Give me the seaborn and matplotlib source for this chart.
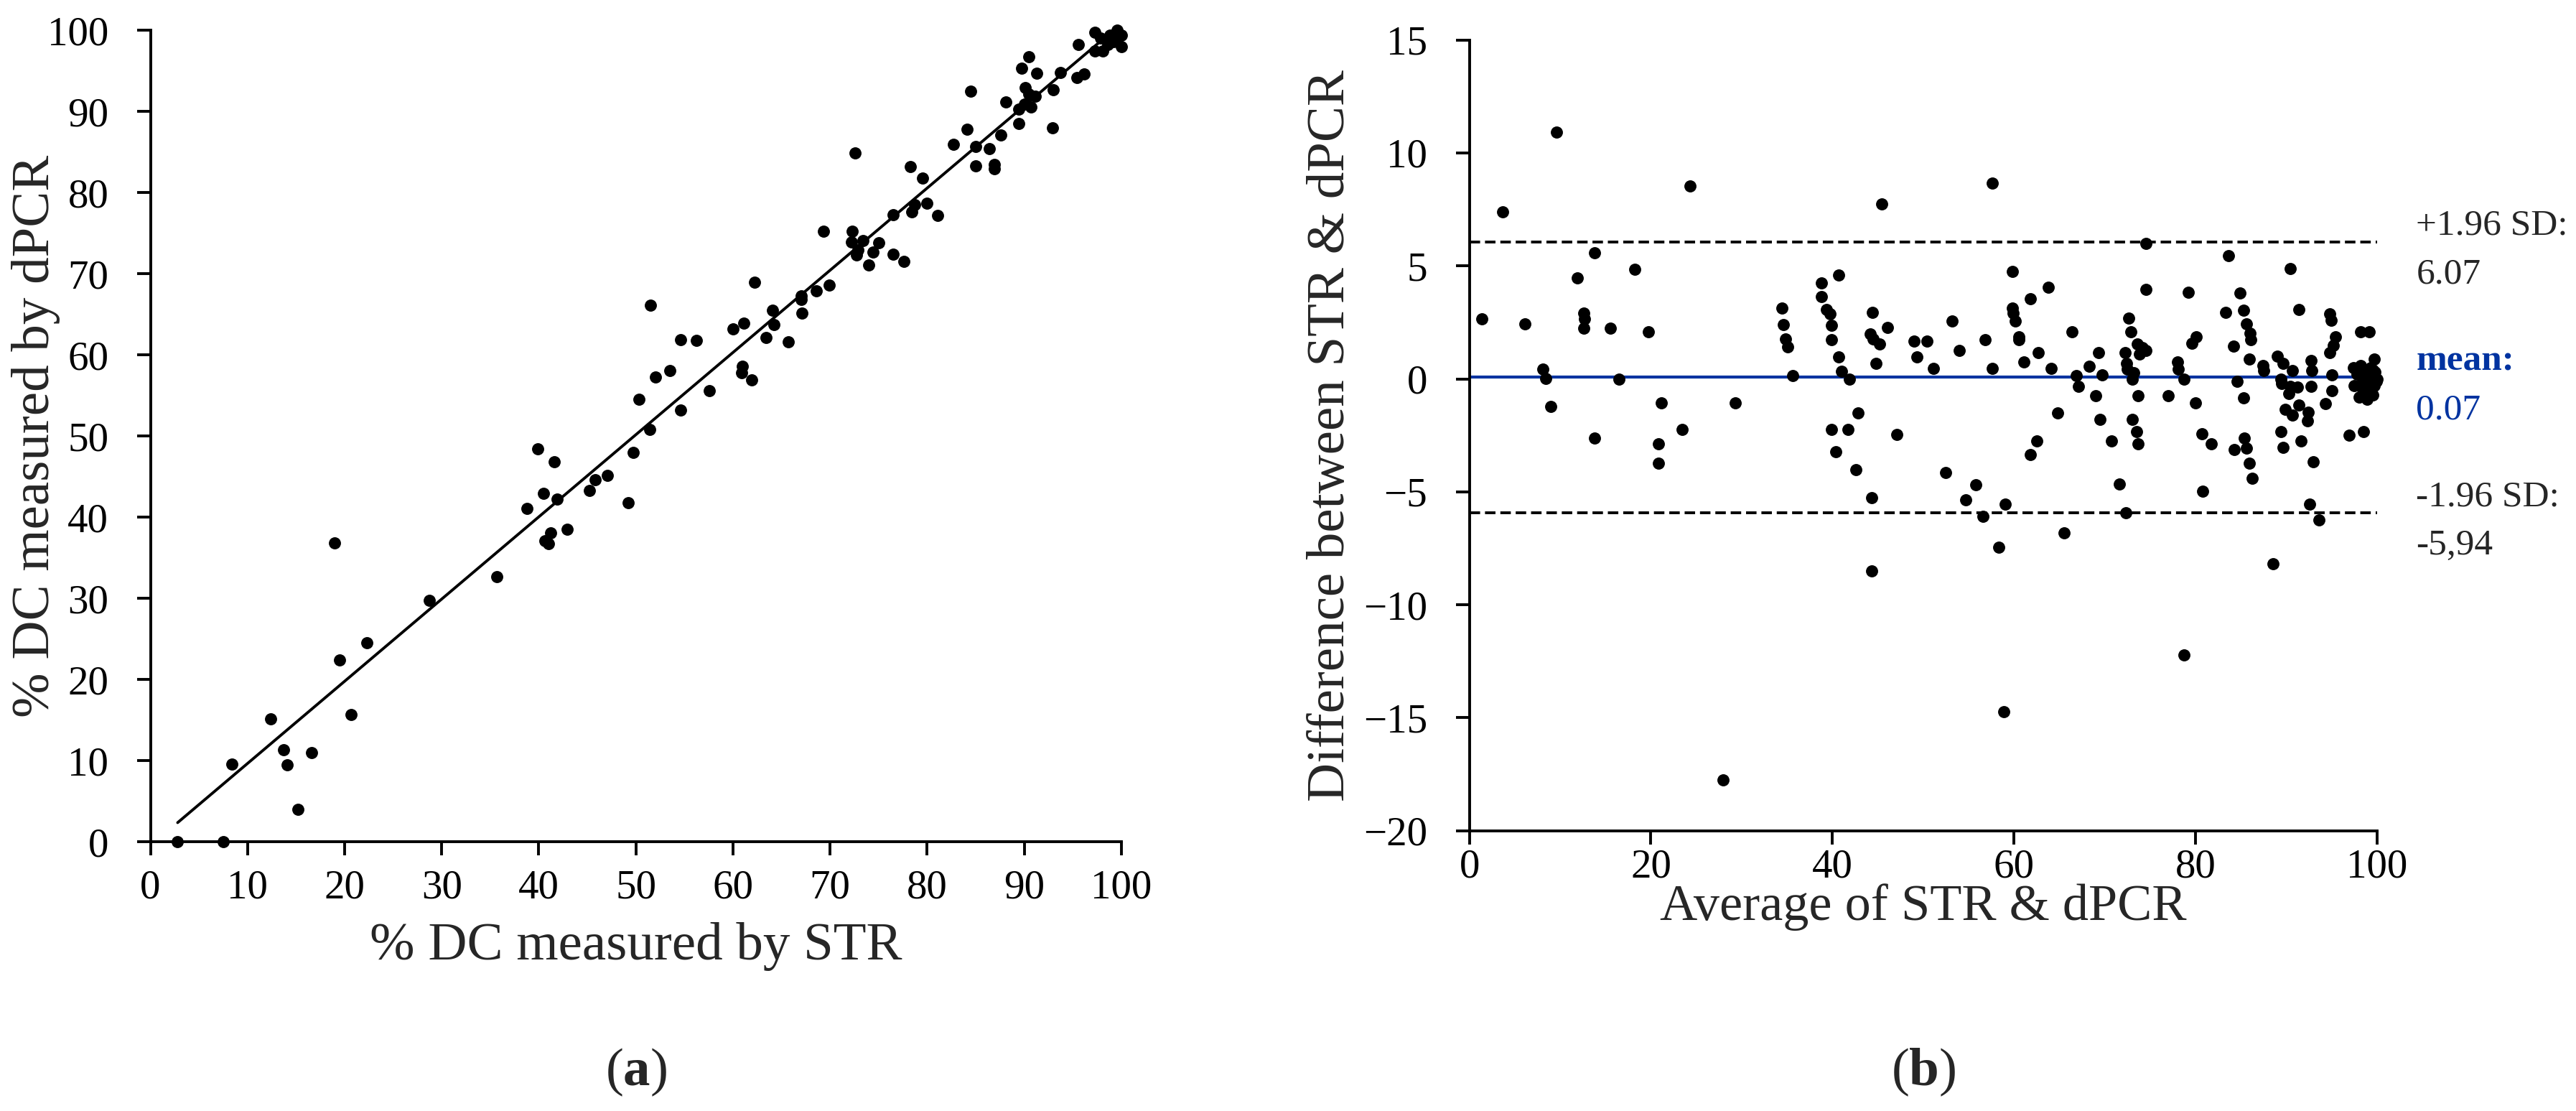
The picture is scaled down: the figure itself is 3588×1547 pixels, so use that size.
import matplotlib
matplotlib.use("Agg")
import matplotlib.pyplot as plt
import seaborn as sns

str_pct = [2.8, 7.5, 8.4, 12.4, 13.7, 14.1, 15.2, 16.6, 19.0, 19.5,
           20.7, 22.3, 28.7, 35.7, 38.8, 40.5, 41.9, 40.6, 41.0, 41.2,
           42.9, 45.2, 45.8, 47.1, 49.2,
           39.9, 41.6, 50.3, 49.7,
           51.4, 51.5, 52.0, 53.5, 54.6, 56.2, 54.6, 57.6, 60.0, 61.1,
           62.2, 61.0, 60.9, 61.9, 63.4, 64.1, 64.2, 65.7, 67.0, 67.1,
           67.0, 68.6, 69.9, 69.3, 72.6, 72.3, 72.2, 73.4, 72.9, 72.7,
           74.4, 75.0, 74.0, 76.5, 77.6, 76.5, 78.3, 79.5, 78.4, 78.7, 80.0,
           81.1, 84.5, 84.1, 82.7, 85.0, 86.4, 85.0, 86.9, 86.9, 87.6,
           88.1, 89.4, 89.4, 90.0, 90.7, 90.1, 90.5, 91.1, 89.7, 90.5,
           91.3, 92.9, 93.0, 93.7, 95.4, 96.2, 95.6, 97.3, 97.3, 98.1,
           97.9, 98.8, 99.6, 100.0, 100.0, 99.2, 98.6, 99.6]
dpcr_pct = [0.0, 0.0, 9.6, 15.1, 11.3, 9.5, 4.0, 11.0, 36.8, 22.4,
            15.7, 24.5, 29.7, 32.7, 41.1, 42.9, 42.2, 37.1, 36.7, 38.1,
            38.5, 43.3, 44.6, 45.1, 41.8,
            48.4, 46.8, 54.5, 48.0,
            50.8, 66.1, 57.3, 58.1, 61.9, 61.8, 53.2, 55.6, 63.2, 63.9,
            68.9, 58.6, 57.8, 56.9, 62.1, 65.5, 63.7, 61.6, 67.3, 65.1,
            66.8, 67.9, 68.6, 75.2, 84.9, 75.2, 73.9, 74.1, 72.9, 72.3,
            72.7, 73.8, 71.1, 72.4, 71.5, 77.3, 83.2, 81.8, 77.6, 78.5, 78.7,
            77.2, 92.5, 87.8, 85.9, 85.7, 85.4, 83.3, 83.5, 82.9, 87.1,
            91.2, 88.5, 90.3, 90.9, 90.5, 92.9, 92.1, 91.9, 95.3, 96.7,
            94.7, 88.0, 92.7, 94.8, 94.2, 94.6, 98.2, 99.7, 97.4, 97.4,
            99.0, 99.4, 100.0, 99.4, 98.0, 98.6, 98.2, 98.8]

# (b) Bland-Altman: average of STR & dPCR (x) and difference (y)
ba_avg = [9.6, 3.64, 24.33, 1.37, 6.12, 12.6, 12.65, 12.6, 11.92, 13.76,
          18.24, 15.5, 19.72, 8.09, 8.38, 16.5, 8.99, 21.14, 29.26, 23.46,
          13.79, 20.83, 20.83, 27.95,
          34.4, 34.6, 34.8, 35.1, 35.6, 45.4, 57.6, 38.8, 38.8, 40.7,
          39.3, 39.7, 39.9, 39.9, 40.7, 41.0, 41.9, 42.8, 39.9, 41.7,
          40.4, 42.6, 44.4, 44.2, 44.5, 45.2, 46.1, 44.8, 47.1, 49.0,
          50.4, 49.3, 51.1, 53.2, 54.0, 52.5, 55.8, 56.8, 57.6, 59.8,
          59.8, 59.9, 60.1, 60.5, 60.5, 61.1, 61.8, 63.8, 62.7, 64.1,
          64.8, 62.5, 61.8, 66.4, 66.9, 67.1, 68.3, 69.3, 69.7, 69.0,
          69.5, 70.7, 71.6, 74.5, 74.5, 72.6, 72.9, 72.2, 73.6, 74.1,
          73.8, 72.4, 72.5, 73.2, 73.0, 73.7, 73.0, 73.5, 73.7, 74.5,
          44.3, 44.3, 54.7, 59.0, 56.6, 58.3, 58.9, 65.5, 72.3,
          80.75, 92.6, 93.6, 88.5, 78.7,
          83.6, 90.4, 79.2, 84.9, 83.3, 85.3, 85.6, 86.0, 86.1, 91.4,
          94.8, 94.9, 80.1, 79.6, 84.2, 95.4, 95.2, 94.8, 85.9, 78.0,
          78.1, 78.7, 87.4, 87.5, 89.0, 89.6, 90.7, 89.4, 89.5, 90.4,
          91.2, 90.3, 92.7, 92.8, 92.7, 95.0, 95.0, 84.6, 77.0, 80.0,
          85.3, 94.3, 89.9, 90.7, 91.4, 92.4, 92.3, 80.7, 81.7, 84.3,
          85.4, 85.6, 85.9, 86.2, 89.4, 89.6, 91.6, 93.0,
          98.2, 99.1, 99.7, 96.9, 98.5,
          97.4, 97.5, 97.8, 98.0, 98.2, 98.4, 98.6, 98.7, 98.9, 99.0,
          99.2, 99.3, 99.5, 99.6, 99.7, 99.8, 99.9, 100.0, 99.5, 98.3]
ba_diff = [10.93, 7.38, 8.55, 2.65, 2.42, 2.92, 2.65, 2.25, 4.46, 5.57,
           4.86, 2.25, 2.07, 0.42, 0.02, 0.0, -1.22, -1.06, -1.06, -2.23,
           -2.63, -2.87, -3.74, -17.76,
           3.13, 2.39, 1.75, 1.41, 0.16, 7.73, 8.65, 4.25, 3.64, 4.6,
           3.08, 2.87, 2.36, 1.73, 0.96, 0.32, -0.02, -1.52, -2.23, -2.23,
           -3.21, -4.01, 2.95, 1.99, 1.75, 1.54, 2.26, 0.69, -2.46, 1.68,
           1.68, 0.96, 0.46, 2.55, 1.25, -4.14, -4.7, 1.73, 0.46, 4.76,
           3.13, 2.92, 2.55, 1.86, 1.72, 0.74, 3.54, 4.07, 1.15, 0.46,
           -1.52, -2.74, -3.34, 2.09, 0.16, -0.34, 0.56, 1.15, 0.19, -0.74,
           -1.8, -2.74, -4.65, 6.0, 3.96, 2.68, 2.07, 1.17, 1.54, 1.38,
           1.11, 0.69, 0.42, 0.27, 0.0, -0.74, -1.8, -2.34, -2.87, 1.27,
           -5.25, -8.51, -5.36, -5.54, -6.1, -7.45, -14.73, -6.81, -5.94,
           -4.97, -5.54, -6.24, -8.17, -12.23,
           5.45, 4.88, 3.84, 3.79, 2.95, 3.03, 2.44, 2.02, 1.72, 3.08,
           2.87, 2.6, 1.86, 1.59, 1.45, 1.86, 1.49, 1.17, 0.87, 0.74,
           0.42, 0.0, 0.58, 0.37, 1.01, 0.69, 0.37, 0.0, -0.21, -0.32,
           -0.37, -0.64, 0.8, 0.37, -0.32, 0.19, -0.53, -0.11, -0.74, -1.06,
           -0.83, -1.11, -1.36, -1.59, -1.17, -1.49, -1.86, -2.44, -2.87, -3.13,
           -2.63, -3.08, -3.72, -4.41, -2.34, -3.03, -2.74, -3.66,
           2.07, 2.07, 0.87, -2.49, -2.34,
           0.5, -0.3, 0.2, -0.8, 0.6, -0.1, -0.6, 0.3, -0.9, 0.1,
           -0.4, 0.5, -0.7, 0.0, -0.3, 0.3, -0.1, 0.0, 0.4, -0.4]

mean_diff = 0.07
upper_sd = 6.07
lower_sd = -5.94

blue = "#0033a0"

sns.set_style("ticks")
plt.rcParams["font.family"] = ["Liberation Serif", "DejaVu Serif"]
plt.rcParams["mathtext.fontset"] = "custom"
plt.rcParams["mathtext.rm"] = "Liberation Serif"
plt.rcParams["mathtext.bf"] = "Liberation Serif:bold"
plt.rcParams["axes.linewidth"] = 1.4
plt.rcParams["axes.edgecolor"] = "black"
plt.rcParams["xtick.major.width"] = 1.4
plt.rcParams["ytick.major.width"] = 1.4
plt.rcParams["xtick.major.size"] = 7
plt.rcParams["ytick.major.size"] = 7
plt.rcParams["xtick.color"] = "black"
plt.rcParams["ytick.color"] = "black"

fig = plt.figure(figsize=(17.94, 7.735), dpi=200)
ax1 = fig.add_axes([0.0584, 0.2424, 0.3769, 0.7304])
ax2 = fig.add_axes([0.5704, 0.2523, 0.3524, 0.7117])

# panel (a)
sns.scatterplot(x=str_pct, y=dpcr_pct, ax=ax1, color="black", s=37,
                linewidth=0, clip_on=False, zorder=3)
sns.regplot(x=str_pct, y=dpcr_pct, ax=ax1, scatter=False, ci=None,
            color="black", line_kws={"lw": 1.4})
ax1.set_xlim(0, 100)
ax1.set_ylim(0, 100)
ax1.set_xticks(range(0, 101, 10))
ax1.set_yticks(range(0, 101, 10))
ax1.tick_params(axis="x", labelsize=20.5, pad=7)
ax1.tick_params(axis="y", labelsize=20.5, pad=14)
ax1.set_xlabel("% DC measured by STR", fontsize=27, va="center")
ax1.set_ylabel("% DC measured by dPCR", fontsize=27, va="center")
ax1.xaxis.set_label_coords(0.5, -0.129)
ax1.yaxis.set_label_coords(-0.118, 0.5)
sns.despine(ax=ax1)

# panel (b)
sns.scatterplot(x=ba_avg, y=ba_diff, ax=ax2, color="black", s=37,
                linewidth=0, clip_on=False, zorder=3)
ax2.axhline(mean_diff, color=blue, lw=1.5, zorder=2)
ax2.axhline(upper_sd, color="black", lw=1.4, ls=(0, (3.75, 1.75)), zorder=2)
ax2.axhline(lower_sd, color="black", lw=1.4, ls=(0, (3.75, 1.75)), zorder=2)
ax2.set_xlim(0, 100)
ax2.set_ylim(-20, 15)
ax2.set_xticks(range(0, 101, 20))
ax2.set_yticks(range(-20, 16, 5))
ax2.tick_params(axis="x", labelsize=20.5, pad=2)
ax2.tick_params(axis="y", labelsize=20.5, pad=14)
ax2.set_xlabel("Average of STR & dPCR", fontsize=26, va="center")
ax2.set_ylabel("Difference between STR & dPCR", fontsize=27, va="center")
ax2.xaxis.set_label_coords(0.5, -0.097)
ax2.yaxis.set_label_coords(-0.152, 0.5)
sns.despine(ax=ax2)

tx = 104.3
ax2.text(tx, upper_sd + 0.7, "+1.96 SD:", fontsize=18.5, va="center", clip_on=False)
ax2.text(tx, upper_sd - 1.45, f"{upper_sd:.2f}", fontsize=18.5, va="center", clip_on=False)
ax2.text(tx, mean_diff + 0.7, "mean:", fontsize=18.5, va="center", color=blue,
         fontweight="bold", clip_on=False)
ax2.text(tx, mean_diff - 1.45, f"{mean_diff:.2f}", fontsize=18.5, va="center",
         color=blue, clip_on=False)
ax2.text(tx, lower_sd + 0.7, "-1.96 SD:", fontsize=18.5, va="center", clip_on=False)
ax2.text(tx, lower_sd - 1.45, f"{lower_sd:.2f}".replace(".", ","), fontsize=18.5,
         va="center", clip_on=False)

fig.text(0.247, 0.035, r"($\mathbf{a}$)", fontsize=27, ha="center", va="center")
fig.text(0.7466, 0.035, r"($\mathbf{b}$)", fontsize=27, ha="center", va="center")

fig.savefig("out.png", dpi=200, facecolor="white")
